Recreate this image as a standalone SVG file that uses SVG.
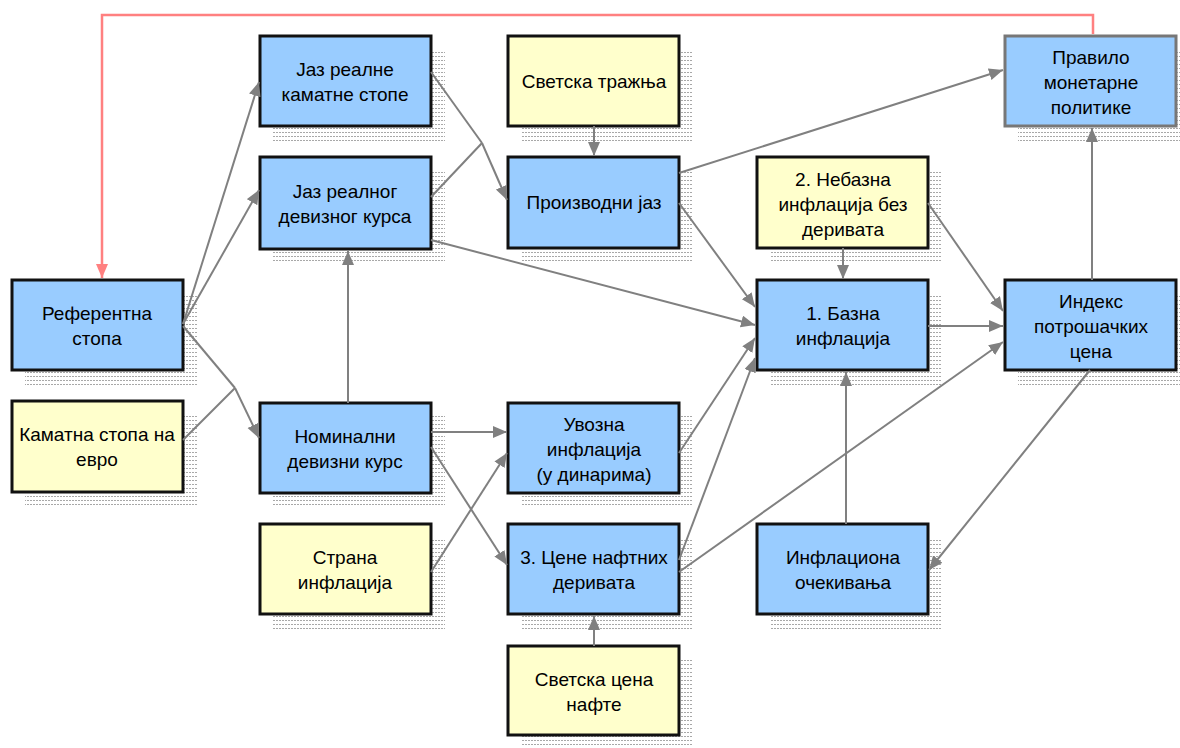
<svg xmlns="http://www.w3.org/2000/svg" width="1180" height="748" viewBox="0 0 1180 748">
  <defs>
    <pattern id="dots" width="3" height="4" patternUnits="userSpaceOnUse">
      <rect x="0" y="0" width="2" height="1" fill="#a8a8a8"/>
    </pattern>
    <marker id="arr" markerUnits="userSpaceOnUse" markerWidth="16" markerHeight="14" refX="14" refY="6" orient="auto">
      <path d="M0,0 L14,6 L0,12 Z" fill="#808080"/>
    </marker>
    <marker id="arrRed" markerUnits="userSpaceOnUse" markerWidth="16" markerHeight="14" refX="14" refY="6" orient="auto">
      <path d="M0,0 L14,6 L0,12 Z" fill="#ff8080"/>
    </marker>
  </defs>
  <style>
    .shadow { fill: url(#dots); }
    .box { stroke: #111; stroke-width: 3; }
    .blue { fill: #99ccff; }
    .yellow { fill: #ffffcc; }
    .grey { stroke: #777; }
    text { font-family: "Liberation Sans", Arial, sans-serif; font-size: 19px; fill: #000; text-anchor: middle; }
    .conn path { fill: none; stroke: #808080; stroke-width: 2; }
    .conn path.arrow { marker-end: url(#arr); }
    .conn path.red { stroke: #ff8080; stroke-width: 2.5; marker-end: url(#arrRed); }
  </style>

  <rect width="1180" height="748" fill="#ffffff"/>

  <!-- column 1 -->
  <g id="referentna-stopa">
    <rect class="shadow" x="25" y="293" width="172" height="92"/>
    <rect class="box blue" x="12" y="280" width="171" height="90"/>
    <text x="97" y="320">Референтна</text>
    <text x="97" y="345">стопа</text>
  </g>
  <g id="kamatna-stopa-evro">
    <rect class="shadow" x="25" y="414" width="172" height="92"/>
    <rect class="box yellow" x="12" y="401" width="171" height="91"/>
    <text x="97" y="441">Каматна стопа на</text>
    <text x="97" y="466">евро</text>
  </g>

  <!-- column 2 -->
  <g id="jaz-realne-kamatne">
    <rect class="shadow" x="273" y="49" width="172" height="92"/>
    <rect class="box blue" x="260" y="36" width="171" height="90"/>
    <text x="345" y="76">Јаз реалне</text>
    <text x="345" y="101">каматне стопе</text>
  </g>
  <g id="jaz-realnog-deviznog">
    <rect class="shadow" x="273" y="170" width="172" height="92"/>
    <rect class="box blue" x="260" y="157" width="171" height="92"/>
    <text x="345" y="198">Јаз реалног</text>
    <text x="345" y="223">девизног курса</text>
  </g>
  <g id="nominalni-devizni">
    <rect class="shadow" x="273" y="416" width="172" height="92"/>
    <rect class="box blue" x="260" y="403" width="171" height="90"/>
    <text x="345" y="443">Номинални</text>
    <text x="345" y="468">девизни курс</text>
  </g>
  <g id="strana-inflacija">
    <rect class="shadow" x="273" y="537" width="172" height="92"/>
    <rect class="box yellow" x="260" y="524" width="171" height="90"/>
    <text x="345" y="564">Страна</text>
    <text x="345" y="589">инфлација</text>
  </g>

  <!-- column 3 -->
  <g id="svetska-traznja">
    <rect class="shadow" x="521" y="49" width="172" height="92"/>
    <rect class="box yellow" x="508" y="36" width="171" height="90"/>
    <text x="594" y="88">Светска тражња</text>
  </g>
  <g id="proizvodni-jaz">
    <rect class="shadow" x="521" y="170" width="172" height="92"/>
    <rect class="box blue" x="508" y="157" width="171" height="91"/>
    <text x="594" y="209">Производни јаз</text>
  </g>
  <g id="uvozna-inflacija">
    <rect class="shadow" x="521" y="416" width="172" height="92"/>
    <rect class="box blue" x="508" y="403" width="171" height="90"/>
    <text x="594" y="431">Увозна</text>
    <text x="594" y="456">инфлација</text>
    <text x="594" y="481">(у динарима)</text>
  </g>
  <g id="cene-naftnih-derivata">
    <rect class="shadow" x="521" y="537" width="172" height="92"/>
    <rect class="box blue" x="508" y="524" width="171" height="90"/>
    <text x="594" y="564">3. Цене нафтних</text>
    <text x="594" y="589">деривата</text>
  </g>
  <g id="svetska-cena-nafte">
    <rect class="shadow" x="521" y="659" width="172" height="88"/>
    <rect class="box yellow" x="508" y="646" width="171" height="89"/>
    <text x="594" y="686">Светска цена</text>
    <text x="594" y="711">нафте</text>
  </g>

  <!-- column 4 -->
  <g id="nebazna-inflacija">
    <rect class="shadow" x="770" y="170" width="172" height="92"/>
    <rect class="box yellow" x="757" y="157" width="171" height="91"/>
    <text x="843" y="186">2. Небазна</text>
    <text x="843" y="211">инфлација без</text>
    <text x="843" y="236">деривата</text>
  </g>
  <g id="bazna-inflacija">
    <rect class="shadow" x="770" y="293" width="172" height="92"/>
    <rect class="box blue" x="757" y="280" width="171" height="90"/>
    <text x="843" y="320">1. Базна</text>
    <text x="843" y="345">инфлација</text>
  </g>
  <g id="inflaciona-ocekivanja">
    <rect class="shadow" x="770" y="537" width="172" height="92"/>
    <rect class="box blue" x="757" y="524" width="171" height="90"/>
    <text x="843" y="564">Инфлациона</text>
    <text x="843" y="589">очекивања</text>
  </g>

  <!-- column 5 -->
  <g id="pravilo-monetarne-politike">
    <rect class="shadow" x="1018" y="49" width="162" height="92"/>
    <rect class="box blue grey" x="1005" y="36" width="171" height="90"/>
    <text x="1091" y="64">Правило</text>
    <text x="1091" y="89">монетарне</text>
    <text x="1091" y="114">политике</text>
  </g>
  <g id="indeks-potrosackih-cena">
    <rect class="shadow" x="1018" y="293" width="162" height="92"/>
    <rect class="box blue" x="1005" y="280" width="171" height="90"/>
    <text x="1091" y="308">Индекс</text>
    <text x="1091" y="333">потрошачких</text>
    <text x="1091" y="358">цена</text>
  </g>

  <!-- connectors -->
  <g id="connectors" class="conn">
    <!-- feedback from the policy rule to the reference rate -->
    <path class="red" d="M1093,34 V15 H102 V278"/>

    <path class="arrow" d="M183,324 L259,82"/>
    <path class="arrow" d="M183,324 L259,190"/>
    <path d="M183,326 L235,388"/>
    <path d="M183,440 L235,388"/>
    <path class="arrow" d="M235,388 L259,438"/>

    <path class="arrow" d="M348,403 L348,251"/>

    <path d="M431,72 L482,143"/>
    <path d="M431,197 L482,143"/>
    <path class="arrow" d="M482,143 L507,200"/>
    <path class="arrow" d="M431,240 L755,325"/>

    <path class="arrow" d="M594,126 L594,156"/>
    <path class="arrow" d="M679,173 L1003,70"/>
    <path class="arrow" d="M679,203 L755,307"/>

    <path class="arrow" d="M843,248 L843,279"/>
    <path class="arrow" d="M928,203 L1003,311"/>
    <path class="arrow" d="M928,326 L1003,326"/>
    <path class="arrow" d="M1092,280 L1092,128"/>
    <path class="arrow" d="M1090,370 L929,570"/>
    <path class="arrow" d="M846,524 L846,372"/>

    <path class="arrow" d="M431,432 L507,432"/>
    <path class="arrow" d="M431,447 L507,565"/>
    <path class="arrow" d="M431,572 L507,453"/>
    <path class="arrow" d="M679,453 L755,338"/>
    <path class="arrow" d="M679,560 L755,358"/>
    <path class="arrow" d="M679,572 L1003,342"/>
    <path class="arrow" d="M594,646 L594,616"/>
  </g>
</svg>
